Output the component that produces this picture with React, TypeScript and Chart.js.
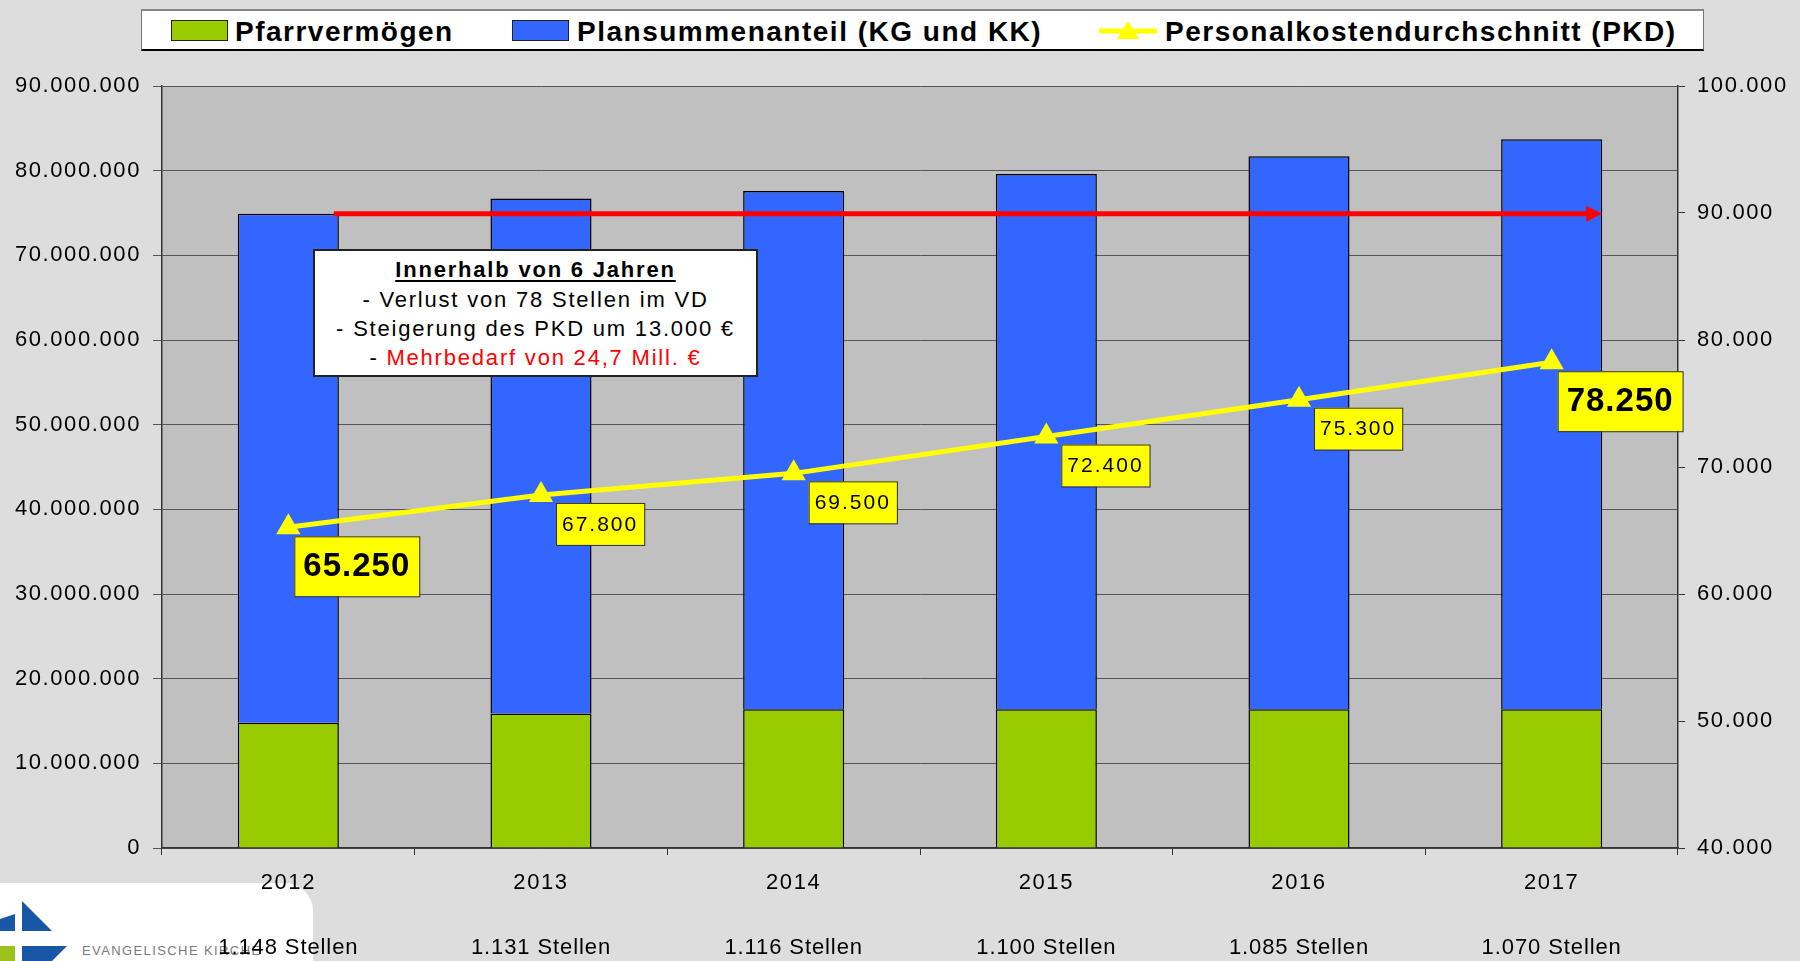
import React, { useEffect, useRef } from 'react';
import { Chart, registerables } from 'chart.js';

Chart.register(...registerables);

// ---------- data ----------
const years = ['2012', '2013', '2014', '2015', '2016', '2017'];
const stellen = ['1.148 Stellen', '1.131 Stellen', '1.116 Stellen', '1.100 Stellen', '1.085 Stellen', '1.070 Stellen'];
const pfarrvermoegen = [14800000, 15900000, 16400000, 16400000, 16400000, 16400000];
const plansummenanteil = [60100000, 60800000, 61200000, 63200000, 65300000, 67300000];
const pkd = [65250, 67800, 69500, 72400, 75300, 78250];
const pkdHighlight = [true, false, false, false, false, true];
const leftAxis = { min: 0, max: 90000000, step: 10000000 };
const rightAxis = { min: 40000, max: 100000, step: 10000 };
const seriesNames = ['Pfarrvermögen', 'Plansummenanteil (KG und KK)', 'Personalkostendurchschnitt (PKD)'];
const noteTitle = 'Innerhalb von 6 Jahren';
const noteLines = ['- Verlust von 78 Stellen im VD', '- Steigerung des PKD um 13.000 €'];
const noteRed = 'Mehrbedarf von 24,7 Mill. €';

const FONT = '"Liberation Sans", Arial, Helvetica, sans-serif';
const GREEN = '#99CC00';
const BLUE = '#3366FF';
const YELLOW = '#FFFF00';

function fmt(n: number): string {
  return String(Math.round(n)).replace(/\B(?=(\d{3})+(?!\d))/g, '.');
}

const overlayPlugin = {
  id: 'overlay',
  beforeDraw(chart: any) {
    const { ctx, chartArea } = chart;
    ctx.save();
    ctx.fillStyle = '#C0C0C0';
    ctx.fillRect(chartArea.left, chartArea.top, chartArea.right - chartArea.left, chartArea.bottom - chartArea.top);
    ctx.restore();
    (ctx as any).letterSpacing = '1.6px';
  },
  afterDatasetsDraw(chart: any) {
    const { ctx } = chart;
    const xs = chart.scales.x;
    const ys = chart.scales.y;
    // red arrow at the 2012 total level
    const level = pfarrvermoegen[0] + plansummenanteil[0];
    const catW = xs.getPixelForValue(1) - xs.getPixelForValue(0);
    const yA = ys.getPixelForValue(level);
    const x0 = xs.getPixelForValue(0) + catW * 0.18;
    const x1 = xs.getPixelForValue(years.length - 1) + catW * 0.2;
    ctx.save();
    ctx.strokeStyle = '#FF0000';
    ctx.fillStyle = '#FF0000';
    ctx.lineWidth = 5;
    ctx.beginPath();
    ctx.moveTo(x0, yA);
    ctx.lineTo(x1 - 12, yA);
    ctx.stroke();
    ctx.beginPath();
    ctx.moveTo(x1 - 16, yA - 8);
    ctx.lineTo(x1, yA);
    ctx.lineTo(x1 - 16, yA + 8);
    ctx.closePath();
    ctx.fill();
    ctx.restore();

    // PKD value boxes
    const meta = chart.getDatasetMeta(2);
    meta.data.forEach((pt: any, i: number) => {
      const big = pkdHighlight[i];
      ctx.save();
      ctx.font = big ? `bold 33px ${FONT}` : `21px ${FONT}`;
      (ctx as any).letterSpacing = big ? '1px' : '2px';
      const text = fmt(pkd[i]);
      const tw = ctx.measureText(text).width;
      const padX = big ? 9 : 6;
      const h = big ? 60 : 42;
      const bw = tw + padX * 2;
      const bx = pt.x + (big ? 6 : 15);
      const by = pt.y + (big ? 9 : 8);
      ctx.fillStyle = YELLOW;
      ctx.fillRect(bx, by, bw, h);
      ctx.strokeStyle = '#333';
      ctx.lineWidth = 1;
      ctx.strokeRect(bx + 0.5, by + 0.5, bw, h);
      ctx.fillStyle = '#000';
      ctx.textBaseline = 'middle';
      ctx.textAlign = 'left';
      ctx.fillText(text, bx + padX, by + h / 2 + 1);
      ctx.restore();
    });
  },
  afterDraw(chart: any) {
    const { ctx } = chart;
    const xs = chart.scales.x;
    // second row of x labels: number of positions
    ctx.save();
    ctx.font = `22px ${FONT}`;
    (ctx as any).letterSpacing = '0.9px';
    ctx.fillStyle = '#000';
    ctx.textAlign = 'center';
    ctx.textBaseline = 'middle';
    stellen.forEach((s, i) => {
      ctx.fillText(s, xs.getPixelForValue(i), xs.top + 100);
    });
    ctx.restore();
    (ctx as any).letterSpacing = '0px';
  },
};

export default function App() {
  const ref = useRef<HTMLCanvasElement | null>(null);

  useEffect(() => {
    document.body.style.margin = '0';
    document.body.style.background = '#DDDDDD';
    if (!ref.current) return;
    const tickFont = { family: FONT, size: 22 };
    const chart = new Chart(ref.current, {
      data: {
        labels: years,
        datasets: [
          {
            type: 'bar',
            label: seriesNames[0],
            data: pfarrvermoegen,
            backgroundColor: GREEN,
            borderColor: '#000',
            borderWidth: 1.5,
            yAxisID: 'y',
            order: 1,
            barPercentage: 0.4,
            categoryPercentage: 1,
          },
          {
            type: 'bar',
            label: seriesNames[1],
            data: plansummenanteil,
            backgroundColor: BLUE,
            borderColor: '#000',
            borderWidth: 1.5,
            yAxisID: 'y',
            order: 1,
            barPercentage: 0.4,
            categoryPercentage: 1,
          },
          {
            type: 'line',
            label: seriesNames[2],
            data: pkd,
            borderColor: YELLOW,
            backgroundColor: YELLOW,
            borderWidth: 5,
            pointStyle: 'triangle',
            pointRadius: 9,
            pointBackgroundColor: YELLOW,
            pointBorderColor: YELLOW,
            yAxisID: 'y1',
            order: 0,
            tension: 0,
          },
        ],
      } as any,
      options: {
        responsive: false,
        animation: false,
        events: [],
        layout: { padding: { top: 86, left: 0, right: 0, bottom: 0 } },
        plugins: { legend: { display: false }, tooltip: { enabled: false } },
        scales: {
          x: {
            stacked: true,
            offset: true,
            grid: { display: true, drawOnChartArea: false, drawTicks: true, tickLength: 7, color: '#333', offset: true },
            border: { color: '#333', width: 1.5 },
            ticks: { font: { ...tickFont, lineHeight: 1.45 }, color: '#000', padding: 12, maxRotation: 0, autoSkip: false },
            afterFit: (s: any) => { s.height = 113; },
          },
          y: {
            stacked: true,
            position: 'left',
            min: leftAxis.min,
            max: leftAxis.max,
            ticks: { stepSize: leftAxis.step, callback: (v: any) => fmt(Number(v)), font: tickFont, color: '#000', padding: 12 },
            grid: { color: '#555', lineWidth: 1, tickLength: 9, drawTicks: true },
            border: { color: '#333', width: 1.5 },
            afterFit: (s: any) => { s.width = 162; },
          },
          y1: {
            position: 'right',
            min: rightAxis.min,
            max: rightAxis.max,
            ticks: { stepSize: rightAxis.step, callback: (v: any) => fmt(Number(v)), font: tickFont, color: '#000', padding: 12 },
            grid: { drawOnChartArea: false, tickLength: 7, color: '#333' },
            border: { color: '#333', width: 1.5 },
            afterFit: (s: any) => { s.width = 122; },
          },
        },
      } as any,
      plugins: [overlayPlugin],
    });
    return () => chart.destroy();
  }, []);

  const legendText: React.CSSProperties = {
    position: 'absolute',
    top: 4,
    height: 34,
    lineHeight: '34px',
    fontFamily: FONT,
    fontWeight: 'bold',
    fontSize: 28,
    letterSpacing: '1.5px',
    color: '#000',
    whiteSpace: 'nowrap',
  };
  const noteLine = (top: number): React.CSSProperties => ({
    position: 'absolute',
    left: 0,
    right: 0,
    top,
    height: 30,
    lineHeight: '30px',
    textAlign: 'center',
    fontFamily: FONT,
    fontSize: 22,
    letterSpacing: '1.8px',
    color: '#000',
    whiteSpace: 'nowrap',
  });

  return (
    <div style={{ position: 'relative', width: 1800, height: 961, background: '#DDDDDD', overflow: 'hidden' }}>
      {/* logo */}
      <div style={{ position: 'absolute', left: 0, top: 883, width: 313, height: 100, background: '#FFFFFF', borderTopRightRadius: 28, zIndex: 0 }}>
        <svg width={313} height={100} style={{ position: 'absolute', left: 0, top: 0 }}>
          <polygon points="22,18 22,48 52,48" fill="#1757A6" />
          <polygon points="0,36 15,31 15,48 0,48" fill="#1757A6" />
          <rect x={0} y={63} width={15} height={20} fill="#9CC31C" />
          <polygon points="22,63 67,63 52,78 22,78" fill="#1757A6" />
          <text x={82} y={72} fontFamily={FONT} fontSize={13} letterSpacing="1.4" fill="#7A7A7A">EVANGELISCHE KIRCHE</text>
        </svg>
      </div>
      <canvas ref={ref} width={1800} height={961} style={{ position: 'absolute', left: 0, top: 0, display: 'block', zIndex: 1 }} />
      {/* legend */}
      <div style={{ position: 'absolute', left: 141, top: 9, width: 1563, height: 42, boxSizing: 'border-box', background: '#FFFFFF', borderTop: '2px solid #888', borderLeft: '1px solid #777', borderRight: '1px solid #777', borderBottom: '2px solid #000', zIndex: 2 }}>
        <div style={{ position: 'absolute', left: 29, top: 9, width: 57, height: 21, boxSizing: 'border-box', background: GREEN, border: '1.5px solid #222' }} />
        <div style={{ ...legendText, left: 93 }}>{seriesNames[0]}</div>
        <div style={{ position: 'absolute', left: 370, top: 9, width: 57, height: 21, boxSizing: 'border-box', background: BLUE, border: '1.5px solid #222' }} />
        <div style={{ ...legendText, left: 435 }}>{seriesNames[1]}</div>
        <svg width={58} height={26} style={{ position: 'absolute', left: 957, top: 7 }}>
          <line x1={0} y1={13} x2={58} y2={13} stroke={YELLOW} strokeWidth={5} />
          <polygon points="29,3 40,21 18,21" fill={YELLOW} />
        </svg>
        <div style={{ ...legendText, left: 1023 }}>{seriesNames[2]}</div>
      </div>
      {/* note box */}
      <div style={{ position: 'absolute', left: 313, top: 249, width: 445, height: 128, boxSizing: 'border-box', background: '#FFFFFF', border: '2px solid #222', zIndex: 2 }}>
        <div style={{ ...noteLine(4), fontWeight: 'bold', textDecoration: 'underline', textDecorationThickness: '2px', textUnderlineOffset: '3px' }}>{noteTitle}</div>
        <div style={noteLine(34)}>{noteLines[0]}</div>
        <div style={noteLine(63)}>{noteLines[1]}</div>
        <div style={noteLine(92)}>- <span style={{ color: '#FF0000' }}>{noteRed}</span></div>
      </div>
    </div>
  );
}
